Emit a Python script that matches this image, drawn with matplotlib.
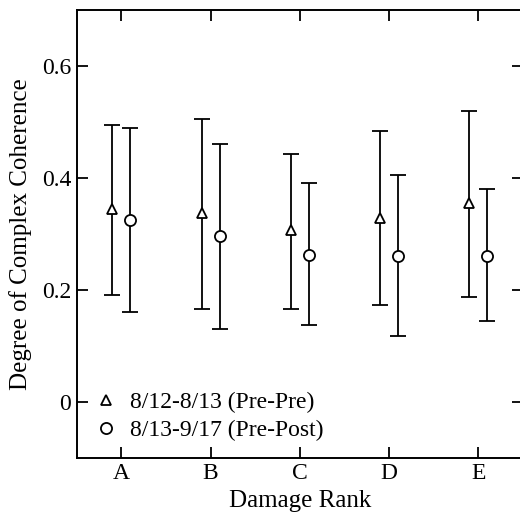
"""Coherence by damage rank, two date pairs."""

import numpy as np
import matplotlib
matplotlib.use("Agg")
import matplotlib.pyplot as plt

plt.rcParams["font.family"] = ["Liberation Serif", "DejaVu Serif"]

ranks = ["A", "B", "C", "D", "E"]

pre_pre_label = "8/12-8/13 (Pre-Pre)"
pre_pre_mean = [0.344, 0.337, 0.306, 0.329, 0.355]
pre_pre_low = [0.190, 0.165, 0.165, 0.173, 0.187]
pre_pre_high = [0.495, 0.506, 0.443, 0.483, 0.519]

pre_post_label = "8/13-9/17 (Pre-Post)"
pre_post_mean = [0.325, 0.296, 0.263, 0.261, 0.261]
pre_post_low = [0.160, 0.130, 0.137, 0.117, 0.144]
pre_post_high = [0.490, 0.460, 0.390, 0.406, 0.381]

fig = plt.figure(figsize=(5.2, 5.15), dpi=100)
ax = fig.add_axes([0.1475, 0.1113, 446.3 / 520, 0.8693])

x = np.arange(1, len(ranks) + 1)
style = dict(color="black", ecolor="black", elinewidth=1.3, capsize=5.5,
             capthick=1.3, linestyle="none", markerfacecolor="white",
             markeredgecolor="black", markeredgewidth=1.3)

m = np.array(pre_pre_mean)
ax.errorbar(x - 0.1, m, yerr=[m - np.array(pre_pre_low), np.array(pre_pre_high) - m],
            marker="^", markersize=7.5, label=pre_pre_label, **style)
m = np.array(pre_post_mean)
ax.errorbar(x + 0.1, m, yerr=[m - np.array(pre_post_low), np.array(pre_post_high) - m],
            marker="o", markersize=8, label=pre_post_label, **style)

ax.set_xlim(0.5, 5.5)
ax.set_ylim(-0.1, 0.7)
ax.set_xticks(x)
ax.set_xticklabels(ranks)
ax.set_yticks([0, 0.2, 0.4, 0.6])
ax.set_yticklabels(["0", "0.2", "0.4", "0.6"])
ax.tick_params(direction="in", length=8, width=1.3, labelsize=17,
               top=True, right=True, pad=4)
for s in ax.spines.values():
    s.set_linewidth(1.4)

ax.set_xlabel("Damage Rank", fontsize=18, labelpad=4)
ax.set_ylabel("Degree of Complex Coherence", fontsize=18, labelpad=7)

handles, labels = ax.get_legend_handles_labels()
handles = [h[0] for h in handles]
ax.legend(handles, labels, loc="lower left", bbox_to_anchor=(0.012, 0.01),
          frameon=False, fontsize=17, handlelength=1.0, handletextpad=0.55,
          borderpad=0, labelspacing=0.3)

fig.savefig("out.png", dpi=100)
